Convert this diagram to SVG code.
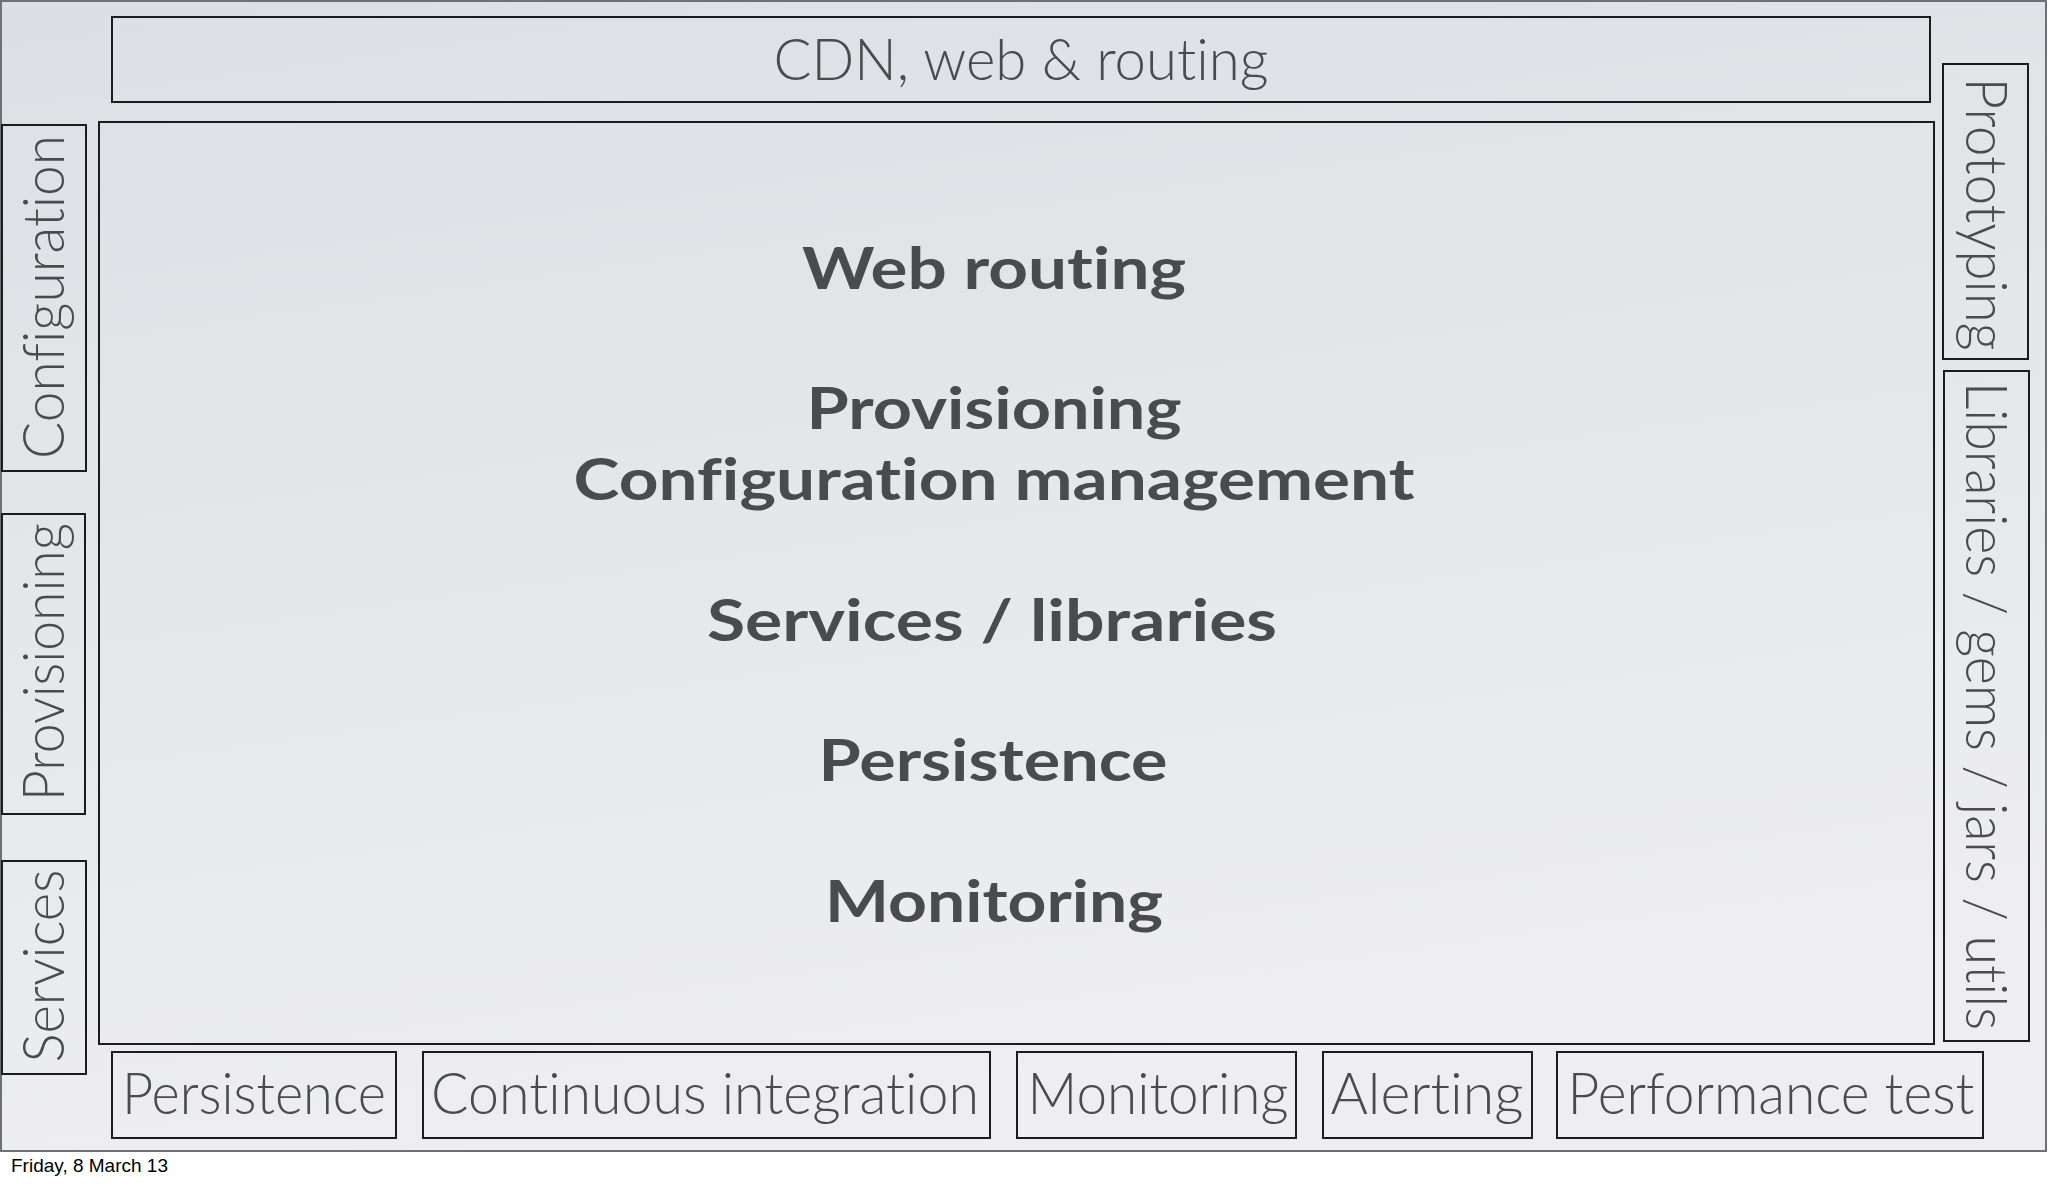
<svg xmlns="http://www.w3.org/2000/svg" width="2048" height="1184" viewBox="0 0 2048 1184">
<defs>
<linearGradient id="bg" x1="0" y1="0" x2="0.25" y2="1">
<stop offset="0" stop-color="#dcdfe4"/>
<stop offset="1" stop-color="#eeeef1"/>
</linearGradient>
<style>
.box{fill:none;stroke:#1c1c1e;stroke-width:2}
.lbl{font-family:Lato,"Open Sans","Liberation Sans",sans-serif;font-weight:300;font-size:58px;fill:#4a4b4f;text-anchor:middle;font-variant-ligatures:none;font-feature-settings:"liga" 0,"clig" 0,"dlig" 0}
.big{font-family:Lato,"Open Sans","Liberation Sans",sans-serif;font-weight:700;font-size:57px;fill:#4a4b4f;text-anchor:middle;font-variant-ligatures:none;font-feature-settings:"liga" 0,"clig" 0,"dlig" 0}
.date{font-family:"Liberation Sans",Arial,sans-serif;font-size:19px;fill:#000}
</style>
</defs>
<rect x="0" y="0" width="2048" height="1184" fill="#ffffff"/>
<rect x="1" y="1" width="2045" height="1150" fill="url(#bg)" stroke="#6d7075" stroke-width="2"/>

<g id="connectors"></g>

<g id="cdn">
<rect class="box" x="112" y="17" width="1818" height="85"/>
<text class="lbl" x="1021" y="80" textLength="495" lengthAdjust="spacingAndGlyphs">CDN, web &amp; routing</text>
</g>

<g id="main">
<rect class="box" x="99" y="122" width="1835" height="922"/>
<text class="big" x="994" y="289" textLength="384" lengthAdjust="spacingAndGlyphs">Web routing</text>
<text class="big" x="994" y="429" textLength="375" lengthAdjust="spacingAndGlyphs">Provisioning</text>
<text class="big" x="994" y="500" textLength="841" lengthAdjust="spacingAndGlyphs">Configuration management</text>
<text class="big" x="992" y="641" textLength="570" lengthAdjust="spacingAndGlyphs">Services / libraries</text>
<text class="big" x="993" y="781" textLength="349" lengthAdjust="spacingAndGlyphs">Persistence</text>
<text class="big" x="994" y="922" textLength="338" lengthAdjust="spacingAndGlyphs">Monitoring</text>
</g>

<g id="configuration">
<rect class="box" x="2" y="125" width="84" height="346"/>
<text class="lbl" transform="translate(64,297) rotate(-90)" x="0" y="0" textLength="324" lengthAdjust="spacingAndGlyphs">Configuration</text>
</g>

<g id="provisioning">
<rect class="box" x="2" y="514" width="83" height="300"/>
<text class="lbl" transform="translate(64,662) rotate(-90)" x="0" y="0" textLength="278" lengthAdjust="spacingAndGlyphs">Provisioning</text>
</g>

<g id="services">
<rect class="box" x="2" y="861" width="84" height="213"/>
<text class="lbl" transform="translate(64,966) rotate(-90)" x="0" y="0" textLength="193" lengthAdjust="spacingAndGlyphs">Services</text>
</g>

<g id="prototyping">
<rect class="box" x="1943" y="64" width="85" height="295"/>
<text class="lbl" transform="translate(1966,214) rotate(90)" x="0" y="0" textLength="273" lengthAdjust="spacingAndGlyphs">Prototyping</text>
</g>

<g id="libraries">
<rect class="box" x="1944" y="371" width="85" height="670"/>
<text class="lbl" transform="translate(1966,706) rotate(90)" x="0" y="0" textLength="648" lengthAdjust="spacingAndGlyphs">Libraries / gems / jars / utils</text>
</g>

<g id="persistence">
<rect class="box" x="112" y="1052" width="284" height="86"/>
<text class="lbl" x="254" y="1114" textLength="264" lengthAdjust="spacingAndGlyphs">Persistence</text>
</g>

<g id="ci">
<rect class="box" x="423" y="1052" width="567" height="86"/>
<text class="lbl" x="705" y="1114" textLength="548" lengthAdjust="spacingAndGlyphs">Continuous integration</text>
</g>

<g id="monitoring">
<rect class="box" x="1017" y="1052" width="279" height="86"/>
<text class="lbl" x="1158" y="1114" textLength="261" lengthAdjust="spacingAndGlyphs">Monitoring</text>
</g>

<g id="alerting">
<rect class="box" x="1323" y="1052" width="209" height="86"/>
<text class="lbl" x="1427" y="1114" textLength="193" lengthAdjust="spacingAndGlyphs">Alerting</text>
</g>

<g id="performance">
<rect class="box" x="1557" y="1052" width="426" height="86"/>
<text class="lbl" x="1771" y="1114" textLength="407" lengthAdjust="spacingAndGlyphs">Performance test</text>
</g>

<text class="date" x="11" y="1172">Friday, 8 March 13</text>
</svg>
